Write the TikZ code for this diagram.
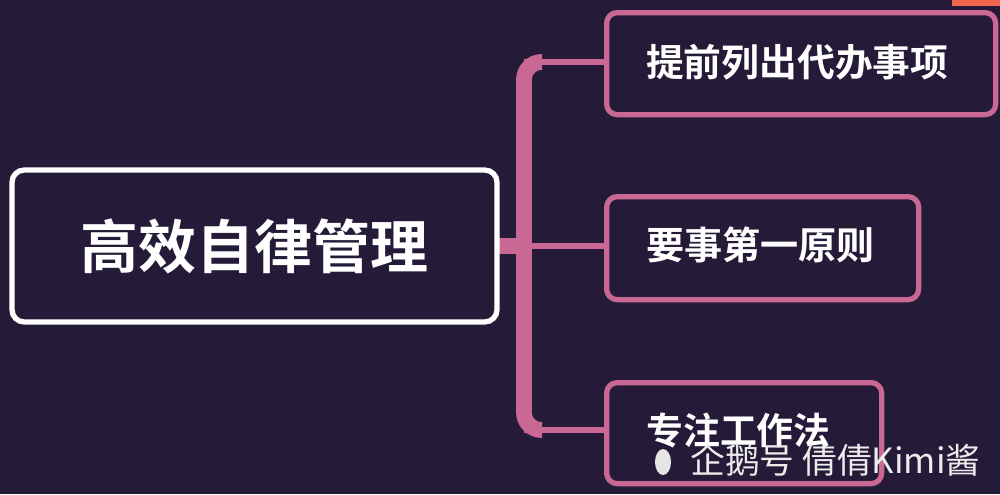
\documentclass[tikz,border=0pt]{standalone}
\usepackage{fontspec}
\setmainfont{Noto Sans CJK SC}
\newfontfamily\cjkb{Noto Sans CJK SC}[BoldFont={* Bold}]
\usetikzlibrary{positioning}
\definecolor{bgdark}{HTML}{251B38}
\definecolor{pinkline}{HTML}{C96895}
\definecolor{redtab}{HTML}{F0664F}
\tikzset{
  rootbox/.style={draw=white,line width=3pt,rounded corners=7pt,fill=bgdark},
  leafbox/.style={draw=pinkline,line width=3pt,rounded corners=6pt,fill=bgdark,anchor=north west,inner sep=0pt},
  leaftext/.style={text=white,anchor=west,font=\cjkb\bfseries\fontsize{#1}{24}\selectfont},
}
\begin{document}
\begin{tikzpicture}[x=0.02cm,y=-0.02cm]
  \fill[bgdark] (0,0) rectangle (1000,494);
  \useasboundingbox (0,0) rectangle (1000,494);
  \fill[redtab] (952,0) rectangle (1000,6);
  % branches
  \coordinate (top) at (604,62);
  \coordinate (mid) at (604,246);
  \coordinate (bot) at (604,430);
  \draw[pinkline,line width=3pt] (524,62) -- (top);
  \draw[pinkline,line width=3pt] (524,246) -- (mid);
  \draw[pinkline,line width=3pt] (524,430) -- (bot);
  \draw[pinkline,line width=9pt,rounded corners=10pt] (542,62) -- (524,62) -- (524,430) -- (542,430);
  \draw[pinkline,line width=9pt] (495,246) -- (524,246);
  \node[rootbox,minimum width=485*0.02cm,minimum height=152*0.02cm] (root) at (254.5,246) {};
  \node[text=white,font=\cjkb\bfseries\fontsize{33}{38}\selectfont] (roott) at (254.5,246) {高效自律管理};
  \node[leafbox,minimum width=389*0.02cm,minimum height=102*0.02cm] (todo) at (604,10) {};
  \node[leafbox,minimum width=312*0.02cm,minimum height=103*0.02cm] (first) at (604,194) {};
  \node[leafbox,minimum width=275*0.02cm,minimum height=101*0.02cm] (focus) at (604,380) {};
  \node[leaftext=21.5] (todot) at (640,62) {提前列出代办事项};
  \node[leaftext=21.7] (firstt) at (640,245) {要事第一原则};
  \node[leaftext=21] (focust) at (640,430) {专注工作法};
  \node[text=white!85!gray,font=\fontsize{19.8}{22}\selectfont,anchor=west] (mark) at (684,460) {企鹅号 倩倩Kimi酱};
  \fill[white!80!gray] (663,462) ellipse (8 and 13);
\end{tikzpicture}
\end{document}
